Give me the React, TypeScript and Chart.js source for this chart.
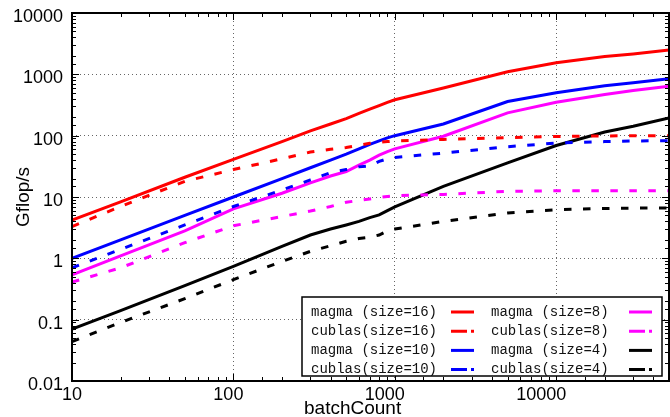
import { useEffect, useRef } from 'react';
import { Chart, registerables } from 'chart.js';

Chart.register(...registerables);

const batchCount = [10, 20, 50, 100, 200, 300, 400, 500, 600, 700, 800, 900, 1000, 2000, 5000, 10000, 20000, 30000, 50000];

const magma16 = [4.2, 8.3, 21, 41, 80, 120, 155, 190, 230, 270, 310, 350, 385, 600, 1100, 1550, 1950, 2150, 2500];
const cublas16 = [3.3, 7, 18, 28, 42, 54, 60, 64, 70, 75, 78, 80, 82, 87, 93, 97, 99, 100, 100];
const magma10 = [1.0, 2.0, 5, 10, 20, 30, 40, 50, 61, 72, 82, 92, 100, 155, 360, 500, 650, 730, 850];
const cublas10 = [0.7, 1.4, 3.5, 7, 13, 19, 25, 28, 31, 32, 38, 42, 44, 52, 66, 76, 80, 82, 83];
const magma8 = [0.54, 1.1, 2.8, 6.4, 11.5, 17, 22, 26, 33, 40, 48, 55, 61, 98, 235, 350, 470, 545, 640];
const cublas8 = [0.41, 0.7, 1.8, 3.4, 4.8, 5.9, 7.0, 8.2, 8.8, 9.3, 9.8, 10.2, 10.5, 11, 12.4, 12.6, 12.6, 12.6, 12.6];
const magma4 = [0.07, 0.14, 0.36, 0.74, 1.57, 2.4, 3.0, 3.5, 4.0, 4.6, 5.1, 6.0, 6.9, 14.9, 36, 69, 115, 142, 195];
const cublas4 = [0.044, 0.09, 0.22, 0.45, 0.89, 1.3, 1.6, 1.9, 2.1, 2.2, 2.4, 2.8, 3.0, 4.0, 5.5, 6.2, 6.5, 6.6, 6.6];

const seriesLabels = [
  'magma (size=16)', 'cublas(size=16)', 'magma (size=10)', 'cublas(size=10)',
  'magma (size=8)', 'cublas(size=8)', 'magma (size=4)', 'cublas(size=4)',
];
const seriesValues = [magma16, cublas16, magma10, cublas10, magma8, cublas8, magma4, cublas4];
const seriesColors = ['#ff0000', '#ff0000', '#0000ff', '#0000ff', '#ff00ff', '#ff00ff', '#000000', '#000000'];
const seriesDashed = [false, true, false, true, false, true, false, true];

const xTickValues = [10, 100, 1000, 10000];
const xTickLabels = ['10', '100', '1000', '10000'];
const yTickValues = [0.01, 0.1, 1, 10, 100, 1000, 10000];
const yTickLabels = ['0.01', '0.1', '1', '10', '100', '1000', '10000'];

const xTitle = 'batchCount';
const yTitle = 'Gflop/s';

const isDecade = (v: number) => Math.abs(Math.log10(v) - Math.round(Math.log10(v))) < 1e-6;
const labelFor = (v: number, values: number[], labels: string[]) => {
  for (let i = 0; i < values.length; i++) {
    if (Math.abs(Math.log10(v) - Math.log10(values[i])) < 1e-6) return labels[i];
  }
  return '';
};

const PLOT_DASH = [7.5, 11.5];

const framePlugin = {
  id: 'frame',
  afterDatasetsDraw(chart: any) {
    const { ctx, chartArea: a } = chart;
    const xs = chart.scales.x;
    const ys = chart.scales.y;
    ctx.save();
    ctx.strokeStyle = '#000';
    ctx.lineWidth = 1;
    ctx.setLineDash([]);
    ctx.beginPath();
    for (const t of xs.ticks) {
      const p = Math.round(xs.getPixelForValue(t.value)) + 0.5;
      if (p <= a.left + 1 || p >= a.right - 1) continue;
      const len = isDecade(t.value) ? 7 : 4;
      ctx.moveTo(p, a.bottom);
      ctx.lineTo(p, a.bottom - len);
      ctx.moveTo(p, a.top);
      ctx.lineTo(p, a.top + len);
    }
    for (const t of ys.ticks) {
      const p = Math.round(ys.getPixelForValue(t.value)) + 0.5;
      if (p <= a.top + 1 || p >= a.bottom - 1) continue;
      const len = isDecade(t.value) ? 7 : 4;
      ctx.moveTo(a.left, p);
      ctx.lineTo(a.left + len, p);
      ctx.moveTo(a.right, p);
      ctx.lineTo(a.right - len, p);
    }
    ctx.stroke();
    ctx.lineWidth = 2;
    ctx.strokeRect(a.left, a.top, a.right - a.left, a.bottom - a.top);

    ctx.fillStyle = '#000';
    ctx.font = '19px "Liberation Sans", Arial, sans-serif';
    ctx.textAlign = 'center';
    ctx.textBaseline = 'alphabetic';
    ctx.fillText(xTitle, a.left + (a.right - a.left) * 0.47, chart.height - 3);
    ctx.save();
    ctx.translate(29, (a.top + a.bottom) / 2);
    ctx.rotate(-Math.PI / 2);
    ctx.fillText(yTitle, 0, 0);
    ctx.restore();
    ctx.restore();
  },
};

const legendPlugin = {
  id: 'customLegend',
  afterDraw(chart: any) {
    const { ctx, chartArea: a } = chart;
    const w = 360;
    const h = 79;
    const right = a.right - 7;
    const bottom = a.bottom - 5;
    const left = right - w;
    const top = bottom - h;
    ctx.save();
    ctx.fillStyle = '#fff';
    ctx.fillRect(left, top, w, h);
    ctx.strokeStyle = '#000';
    ctx.lineWidth = 1.5;
    ctx.setLineDash([]);
    ctx.strokeRect(left, top, w, h);
    ctx.font = '14px "Liberation Mono", "Courier New", monospace';
    ctx.textBaseline = 'middle';
    ctx.textAlign = 'left';
    chart.data.datasets.forEach((ds: any, i: number) => {
      const col = i < 4 ? 0 : 1;
      const row = i % 4;
      const y = top + 15 + 19.2 * row;
      const tx = left + (col === 0 ? 9 : 189);
      const lx0 = left + (col === 0 ? 149 : 327);
      const lx1 = lx0 + 23;
      ctx.fillStyle = '#111';
      ctx.fillText(ds.label, tx, y);
      ctx.strokeStyle = ds.borderColor;
      ctx.lineWidth = 3;
      ctx.setLineDash(seriesDashed[i] ? [16, 4] : []);
      ctx.beginPath();
      ctx.moveTo(lx0, y);
      ctx.lineTo(lx1, y);
      ctx.stroke();
    });
    ctx.restore();
  },
};

export default function App() {
  const ref = useRef<HTMLCanvasElement | null>(null);

  useEffect(() => {
    if (!ref.current) return;
    const datasets = seriesValues.map((vals, i) => ({
      label: seriesLabels[i],
      data: batchCount.map((x, j) => ({ x, y: vals[j] })),
      borderColor: seriesColors[i],
      backgroundColor: seriesColors[i],
      borderWidth: 3,
      borderDash: seriesDashed[i] ? PLOT_DASH : [],
      pointRadius: 0,
      tension: 0,
      fill: false,
    }));
    const tickFont = { family: '"Liberation Sans", Arial, sans-serif', size: 18 };
    const gridColor = (c: any) => (c.tick && isDecade(c.tick.value) ? '#666666' : 'rgba(0,0,0,0)');
    const chart = new Chart(ref.current, {
      type: 'line',
      data: { datasets },
      plugins: [framePlugin, legendPlugin],
      options: {
        animation: false,
        responsive: false,
        devicePixelRatio: 1,
        layout: { padding: { top: 13, right: 1, left: 0, bottom: 0 } },
        plugins: { legend: { display: false }, tooltip: { enabled: false } },
        scales: {
          x: {
            type: 'logarithmic',
            min: 10,
            max: 50000,
            afterFit: (s: any) => { s.height = 36; s.paddingLeft = 0; s.paddingRight = 0; },
            border: { display: false, dash: [1, 3] },
            grid: { drawTicks: false, lineWidth: 1, color: gridColor },
            ticks: {
              autoSkip: false,
              maxRotation: 0,
              minRotation: 0,
              align: 'end',
              labelOffset: 10,
              padding: 3,
              color: '#000',
              font: tickFont,
              callback: (v: any) => labelFor(Number(v), xTickValues, xTickLabels),
            },
          },
          y: {
            type: 'logarithmic',
            min: 0.01,
            max: 10000,
            afterFit: (s: any) => { s.width = 72; s.paddingTop = 0; s.paddingBottom = 0; },
            border: { display: false, dash: [1, 3] },
            grid: { drawTicks: false, lineWidth: 1, color: gridColor },
            ticks: {
              autoSkip: false,
              padding: 9,
              labelOffset: 4,
              color: '#000',
              font: tickFont,
              callback: (v: any) => labelFor(Number(v), yTickValues, yTickLabels),
            },
          },
        },
      } as any,
    });
    return () => chart.destroy();
  }, []);

  return (
    <div style={{ position: 'fixed', left: 0, top: 0, width: 670, height: 417, background: '#fff' }}>
      <canvas ref={ref} width={670} height={417} style={{ display: 'block' }} />
    </div>
  );
}
